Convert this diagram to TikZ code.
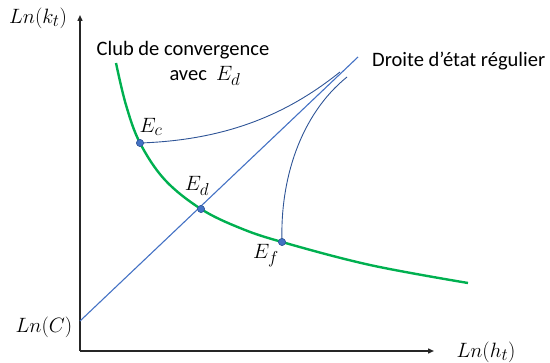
\documentclass[tikz,border=0pt]{standalone}
\usepackage{fontspec}
\setmainfont{Carlito}
\usetikzlibrary{arrows.meta}
\DeclareMathSizes{21.5}{21.5}{17}{13}
\DeclareMathSizes{20.5}{21.5}{17}{13}
\definecolor{cgreen}{RGB}{0,176,80}
\definecolor{cblue}{RGB}{68,114,196}
\definecolor{dblue}{RGB}{47,85,151}
\begin{document}
\begin{tikzpicture}[x=1pt,y=-1pt,
  axis/.style={line width=1.4pt,black!85,-{Triangle[length=6pt,width=5pt]}},
  lbl/.style={font=\fontsize{20.5}{23}\selectfont,inner sep=0pt},
  mlbl/.style={font=\fontsize{21.5}{24}\selectfont,inner sep=0pt},
  dot/.style={circle,fill=cblue,draw=dblue,line width=0.5pt,inner sep=0pt,minimum size=7pt},
  traj/.style={dblue,line width=0.9pt}]
\useasboundingbox (0,0) rectangle (550,363);
% axes
\coordinate (O) at (80,351);
\coordinate (ytip) at (80,15);
\coordinate (xtip) at (434,351);
\draw[axis] (O) -- (ytip);
\draw[axis] (O) -- (xtip);
\node[mlbl] (lk) at (38,18) {$Ln(k_t)$};
\node[mlbl] (lh) at (486,352) {$Ln(h_t)$};
\node[mlbl] (lc) at (44,327) {$Ln(C)$};
% steady-state line
\coordinate (s0) at (80,321);
\coordinate (s1) at (358,57);
\draw[cblue,line width=1.1pt] (s0) -- (s1);
% convergence curve
\draw[cgreen,line width=2.4pt] plot[smooth,tension=0.6] coordinates {(116,63) (126,105) (140,143) (165,180) (201,209) (240,228) (282,242) (370,265) (468,283)};
% trajectories
\node[dot] (Ec) at (140,143) {};
\node[dot] (Ed) at (201,209) {};
\node[dot] (Ef) at (282,242) {};
\coordinate (tc) at (340,72);
\coordinate (tf) at (347,77);
\draw[traj] (Ec.center) .. controls (230,140) and (290,112) .. (tc);
\draw[traj] (Ef.center) .. controls (280,180) and (300,115) .. (tf);
\node[dot] at (Ec) {};
\node[dot] at (Ed) {};
\node[dot] at (Ef) {};
% labels
\node[mlbl] (lEc) at (151,127) {$E_c$};
\node[mlbl] (lEd) at (197,186) {$E_d$};
\node[mlbl] (lEf) at (266,256) {$E_f$};
\node[lbl] (club) at (183,50) {Club de convergence};
\node[lbl] (avec) at (205,76) {avec\ \ $E_d$};
\node[lbl,anchor=west] (droite) at (372,61) {Droite d’état régulier};
\end{tikzpicture}
\end{document}
